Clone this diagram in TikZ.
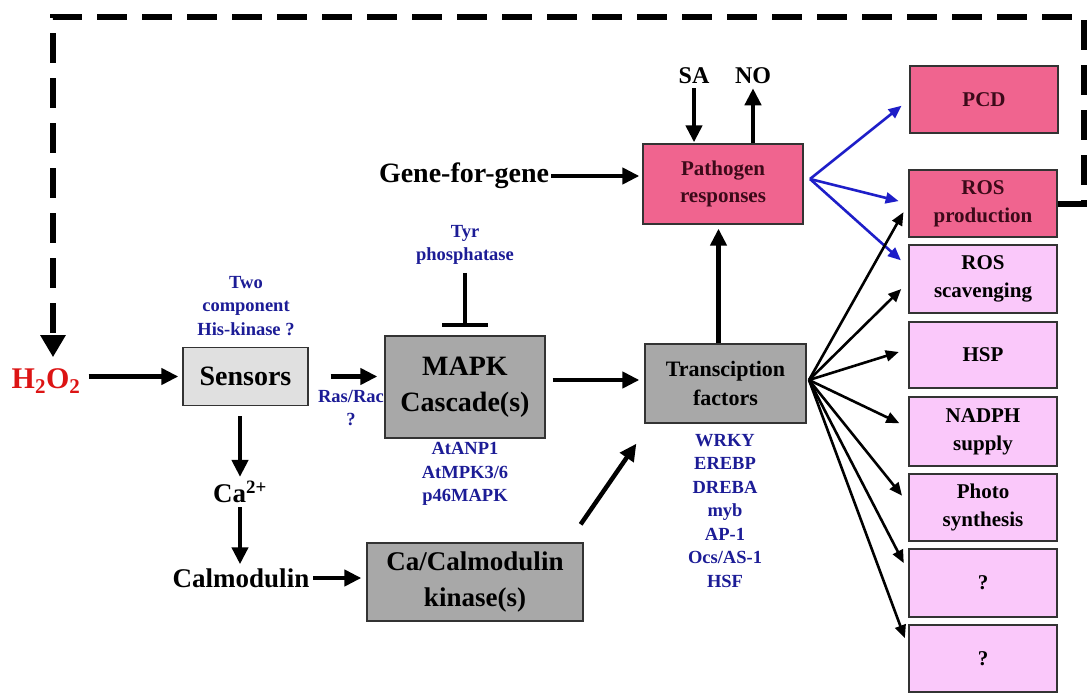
\documentclass[tikz,border=0pt]{standalone}
\usepackage{fontspec}
\setmainfont{Liberation Serif}
\usetikzlibrary{arrows.meta,calc}
\definecolor{navy}{RGB}{28,28,150}
\definecolor{bluea}{RGB}{30,30,200}
\definecolor{boxgray}{RGB}{168,168,168}
\definecolor{boxlight}{RGB}{224,224,224}
\definecolor{pinkd}{RGB}{240,100,143}
\definecolor{pinkl}{RGB}{250,200,250}
\definecolor{textd}{RGB}{60,10,25}
\definecolor{hred}{RGB}{220,20,20}
\newcommand\myfont[2]{\fontsize{#1}{#2}\selectfont\bfseries}
\begin{document}
\begin{tikzpicture}[x=1pt,y=-1pt,
 box/.style={draw=black!80, line width=1.3pt, inner sep=0pt, align=center},
 gbox/.style={box, fill=boxgray},
 rbox/.style={box, minimum width=148pt, minimum height=67pt, font=\myfont{21}{28}},
 pbox/.style={rbox, fill=pinkd, text=textd},
 lbox/.style={rbox, fill=pinkl},
 arr/.style={line width=4.5pt, -{Triangle[length=17pt,width=16pt]}},
 farr/.style={line width=2.6pt, -{Triangle[length=13pt,width=11pt]}, shorten >=10pt},
 barr/.style={farr, draw=bluea, fill=bluea},
 lbl/.style={font=\myfont{27}{32}, inner sep=2pt},
 blbl/.style={text=navy, font=\myfont{18.5}{23.5}, align=center, inner sep=0pt},
 dline/.style={line width=6pt, dash pattern=on 30pt off 15pt, -{Triangle[length=22pt,width=24pt]}}
]
\useasboundingbox (0,0) rectangle (1090,693);

% main boxes
\node[box, fill=boxlight, minimum width=125pt, minimum height=58pt, font=\myfont{28}{34}] (sensors) at (245.5,376.5) {Sensors};
\node[gbox, minimum width=160pt, minimum height=102pt, font=\myfont{28}{36}] (mapk) at (465,387) {MAPK\\Cascade(s)};
\node[gbox, minimum width=161pt, minimum height=79pt, font=\myfont{22}{29}] (tf) at (725.5,383.5) {Transciption\\factors};
\node[gbox, minimum width=216pt, minimum height=78pt, font=\myfont{27}{36}] (cak) at (475,582) {Ca/Calmodulin\\kinase(s)};
\node[box, fill=pinkd, text=textd, minimum width=160pt, minimum height=80pt, font=\myfont{21}{27}] (path) at (723,184) {Pathogen\\responses};

% right column
\node[pbox] (pcd) at (984,99.5) {PCD};
\node[pbox] (rosp) at (983,203.5) {ROS\\production};
\node[lbox, minimum height=68pt] (ross) at (983,279) {ROS\\scavenging};
\node[lbox, minimum height=66pt] (hsp) at (983,355) {HSP};
\node[lbox, minimum height=69pt] (nadph) at (983,431.5) {NADPH\\supply};
\node[lbox] (photo) at (983,507.5) {Photo\\synthesis};
\node[lbox, minimum height=68pt] (q1) at (983,583) {?};
\node[lbox] (q2) at (983,658.5) {?};

% labels
\node[font=\myfont{30}{34}, text=hred, inner sep=2pt] (h2o2) at (46,381) {H\textsubscript{2}O\textsubscript{2}};
\node[lbl, font=\myfont{28}{32}] (gfg) at (464,176) {Gene-for-gene};
\node[lbl] (ca) at (240,492) {Ca\textsuperscript{2+}};
\node[lbl] (calm) at (241,578) {Calmodulin};
\node[lbl, font=\myfont{24}{28}, inner sep=0pt] (sa) at (694,76) {SA};
\node[lbl, font=\myfont{24}{28}, inner sep=0pt] (no) at (753,76) {NO};

% blue labels
\node[blbl] (twoc) at (246,306) {Two\\component\\His-kinase ?};
\node[blbl] (ras) at (351,408) {Ras/Rac\\?};
\node[blbl] (tyr) at (465,245) {Tyr\\phosphatase};
\node[blbl] (atanp) at (465,474) {AtANP1\\AtMPK3/6\\p46MAPK};
\node[blbl] (wrky) at (725,511) {WRKY\\EREBP\\DREBA\\myb\\AP-1\\Ocs/AS-1\\HSF};

% dashed feedback
\coordinate (dR) at (1084,17);
\coordinate (dL) at (53,17);
\draw[dline, shorten >=9pt] (rosp.east) -| (dR) -- (dL) -- (dL |- h2o2.north);

% main arrows
\draw[arr, shorten <=6pt, shorten >=4pt] (sensors.west -| h2o2.east) -- (sensors.west);
\draw[arr, shorten <=22pt, shorten >=7pt] (sensors.east) -- (sensors.east -| mapk.west);
\draw[arr, shorten <=7pt, shorten >=5pt] ([yshift=7pt]mapk.east) -- ([yshift=7pt]mapk.east -| tf.west);
\draw[arr] ([xshift=-3pt,yshift=18pt]cak.north east) -- ([xshift=-8pt,yshift=-20pt]tf.south west);
\draw[arr, shorten >=4pt] ([xshift=-7pt]tf.north) -- ([xshift=-7pt]tf.north |- path.south);
\draw[arr, shorten >=3pt] (gfg.east) -- (gfg.east -| path.west);
\draw[arr, shorten <=4pt, shorten >=1pt] (sa.south) -- (sa.south |- path.north);
\draw[arr, shorten >=4pt] (no.south |- path.north) -- (no.south);
\draw[arr, shorten <=10pt, shorten >=2pt] (ca.north |- sensors.south) -- (ca.north);
\draw[arr, shorten <=2pt, shorten >=2pt] (ca.south) -- (ca.south |- calm.north);
\draw[arr, shorten <=2pt, shorten >=5pt] (calm.east) -- (calm.east -| cak.west);

% inhibition
\draw[line width=4.5pt, -{Bar[width=46pt,line width=4.5pt]}, shorten <=8pt, shorten >=8pt] (tyr.south) -- (tyr.south |- mapk.north);

% blue fan
\coordinate (pf) at (810,179);
\draw[barr] (pf) -- (pcd.west);
\draw[barr] (pf) -- (rosp.west);
\draw[barr] (pf) -- ([yshift=12pt]ross.west);

% black fan
\coordinate (tfo) at (809,380);
\draw[farr] (tfo) -- (rosp.west);
\draw[farr] (tfo) -- ([yshift=-3pt]ross.west);
\draw[farr] (tfo) -- ([yshift=6pt]hsp.west);
\draw[farr] (tfo) -- ([yshift=4pt]nadph.west);
\draw[farr] (tfo) -- ([yshift=4pt]photo.west);
\draw[farr] (tfo) -- ([yshift=11pt]q1.west);
\draw[farr] (tfo) -- ([yshift=11pt]q2.west);
\end{tikzpicture}
\end{document}
